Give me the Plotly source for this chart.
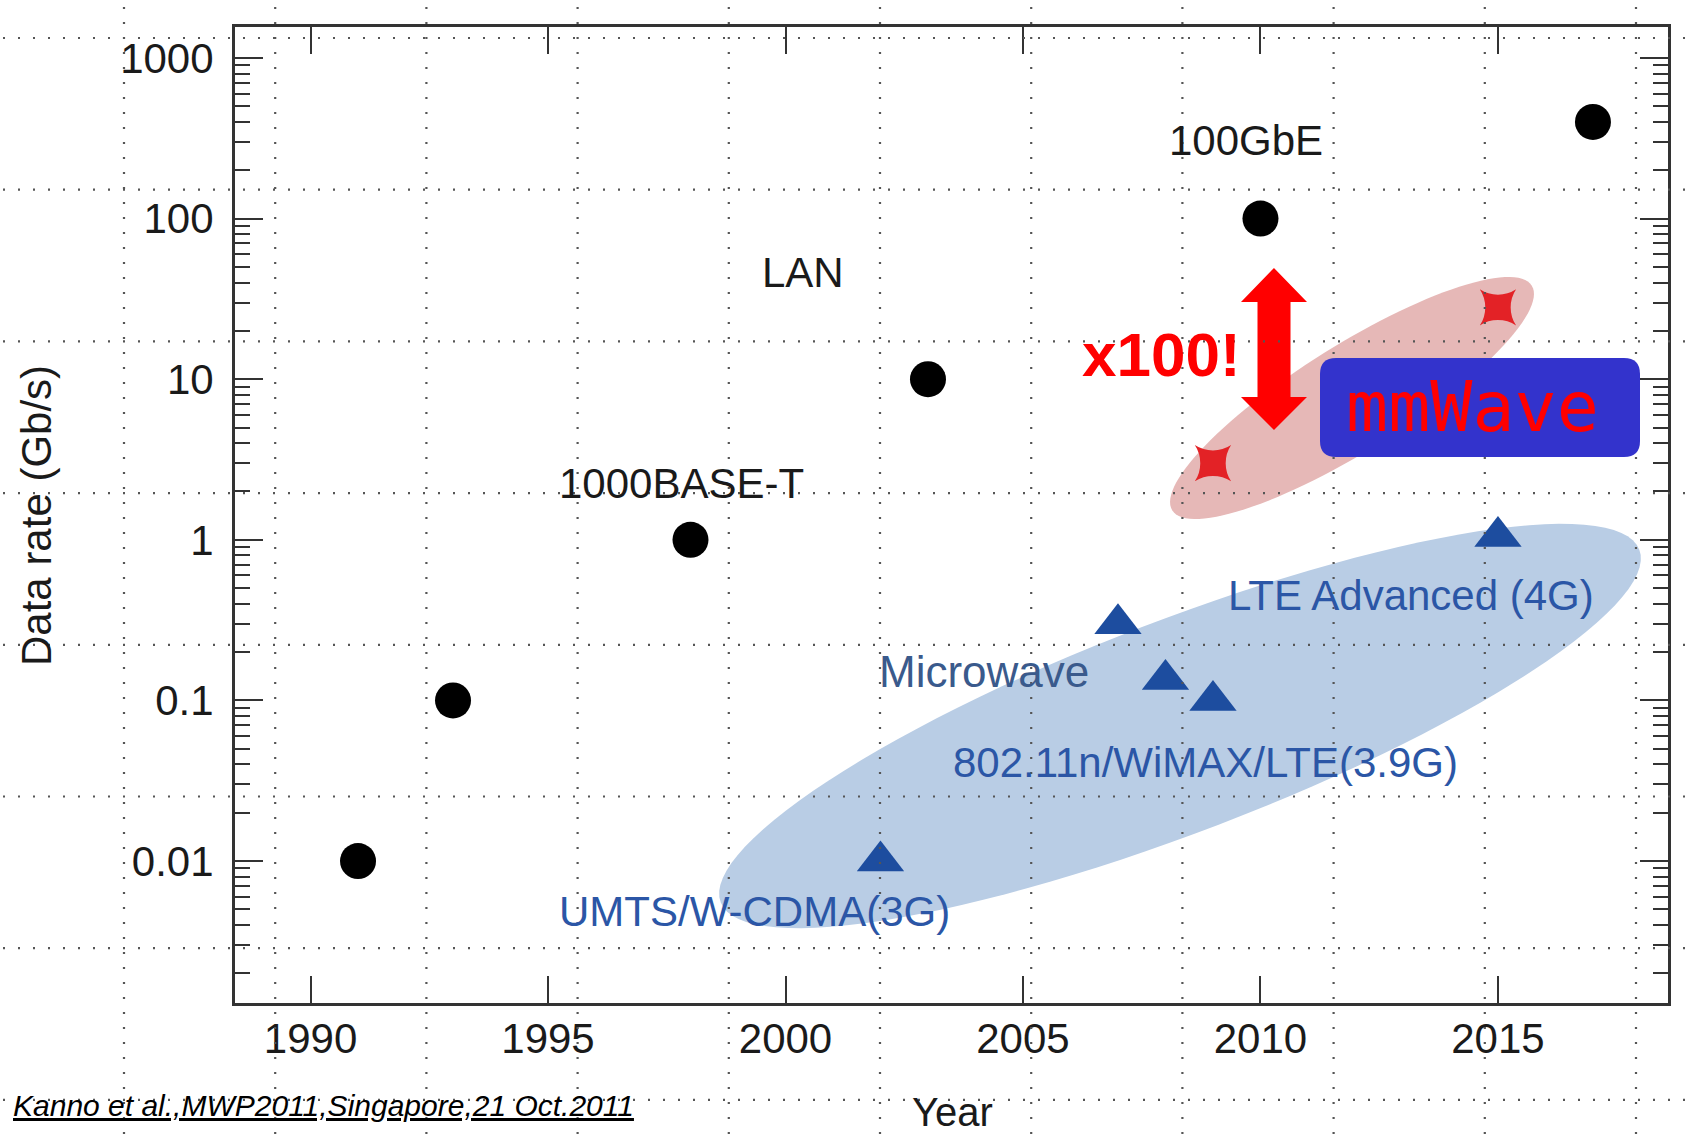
import math
import plotly.graph_objects as go

# ---------------- data ----------------
lan_years = [1991, 1993, 1998, 2003, 2010, 2017]
lan_rates = [0.01, 0.1, 1, 10, 100, 400]

mw_years = [2002, 2007, 2008, 2009, 2015]
mw_rates = [0.01, 0.3, 0.135, 0.1, 1.05]

mmw_years = [2009, 2015]
mmw_rates = [3.0, 28]

x_ticks = [1990, 1995, 2000, 2005, 2010, 2015]
y_ticks = [0.01, 0.1, 1, 10, 100, 1000]
y_ticktext = ["0.01", "0.1", "1", "10", "100", "1000"]

# ---------------- layout geometry ----------------
W_FIG, H_FIG = 1694, 1135
L, R, T, B = 235, 1668, 27, 1003
PW, PH = R - L, B - T


def px(x):
    return (x - L) / PW


def py(y):
    return (B - y) / PH


FONT = "Liberation Sans, Arial, sans-serif"
AX = "#333333"

fig = go.Figure()

fig.add_trace(go.Scatter(x=lan_years, y=lan_rates, mode="markers", name="LAN",
                         marker=dict(symbol="circle", size=36, color="#000000",
                                     line=dict(width=0)),
                         showlegend=False))
fig.add_trace(go.Scatter(x=mw_years, y=mw_rates, mode="markers", name="Microwave",
                         marker=dict(symbol="triangle-up", size=41, color="#1d4d9f",
                                     line=dict(width=0)),
                         showlegend=False))
fig.add_trace(go.Scatter(x=mmw_years, y=mmw_rates, mode="markers", name="mmWave",
                         marker=dict(symbol="star-square", size=33, color="#e32226",
                                     line=dict(width=0)),
                         showlegend=False))

shapes = []


def ellipse_path(cx, cy, a, b, ang_deg, n=120):
    th = math.radians(ang_deg)
    ux, uy = math.cos(th), -math.sin(th)
    vx, vy = math.sin(th), math.cos(th)
    pts = []
    for i in range(n):
        t = 2 * math.pi * i / n
        x = cx + a * math.cos(t) * ux + b * math.sin(t) * vx
        y = cy + a * math.cos(t) * uy + b * math.sin(t) * vy
        pts.append(f"{px(x):.5f},{py(y):.5f}")
    return "M" + " L".join(pts) + " Z"


# blue ellipse (wireless)
shapes.append(dict(type="path", xref="paper", yref="paper", layer="below",
                   path=ellipse_path(1180, 726, 492, 106, 21),
                   fillcolor="#b9cde5", line=dict(width=0)))
# red ellipse (mmWave)
shapes.append(dict(type="path", xref="paper", yref="paper", layer="below",
                   path=ellipse_path(1352, 398, 212, 53, 32),
                   fillcolor="#e6b8b7", line=dict(width=0)))

# double arrow
acx = 1274
arrow_pts = [(acx, 268), (acx + 33, 302), (acx + 16.5, 302), (acx + 16.5, 397),
             (acx + 33, 397), (acx, 430), (acx - 33, 397), (acx - 16.5, 397),
             (acx - 16.5, 302), (acx - 33, 302)]
shapes.append(dict(type="path", xref="paper", yref="paper", layer="above",
                   path="M" + " L".join(f"{px(x):.5f},{py(y):.5f}" for x, y in arrow_pts) + " Z",
                   fillcolor="#ff0000", line=dict(width=0)))

# dotted background grid (slide grid)
for k in range(8):
    y = 38 + 151.7 * k
    shapes.append(dict(type="line", xref="paper", yref="paper", layer="above",
                       x0=px(3), x1=px(W_FIG), y0=py(y), y1=py(y),
                       line=dict(color="#555555", width=2.2, dash="2px,13px")))
for k in range(11):
    x = 124 + 151.2 * k
    shapes.append(dict(type="line", xref="paper", yref="paper", layer="above",
                       x0=px(x), x1=px(x), y0=py(7), y1=py(H_FIG),
                       line=dict(color="#555555", width=2.2, dash="2px,13px")))

# mmWave rounded box
bx0, bx1, by0, by1, rr = 1320, 1640, 358, 457, 16
box_path = (f"M{px(bx0 + rr)},{py(by0)} L{px(bx1 - rr)},{py(by0)} "
            f"Q{px(bx1)},{py(by0)} {px(bx1)},{py(by0 + rr)} "
            f"L{px(bx1)},{py(by1 - rr)} Q{px(bx1)},{py(by1)} {px(bx1 - rr)},{py(by1)} "
            f"L{px(bx0 + rr)},{py(by1)} Q{px(bx0)},{py(by1)} {px(bx0)},{py(by1 - rr)} "
            f"L{px(bx0)},{py(by0 + rr)} Q{px(bx0)},{py(by0)} {px(bx0 + rr)},{py(by0)} Z")
shapes.append(dict(type="path", xref="paper", yref="paper", layer="above",
                   path=box_path, fillcolor="#3333cc", line=dict(width=0)))

annotations = []


def label(text, x, y, size=42, color="#1a1a1a", family=FONT, **kw):
    annotations.append(dict(text=text, x=px(x), y=py(y), xref="paper", yref="paper",
                            showarrow=False, xanchor="center", yanchor="middle",
                            font=dict(size=size, color=color, family=family), **kw))


label("LAN", 803, 272)
label("1000BASE-T", 681, 484)
label("100GbE", 1246, 140)
label("<b>x100!</b>", 1161, 354, size=62, color="#ff0000")
label("mmWave", 1472, 407, size=70, color="#ff0000",
      family="DejaVu Sans Mono, monospace")
label("LTE Advanced (4G)", 1411, 595, color="#2b56a6")
label("Microwave", 984, 671, size=44, color="#3a5a8c")
label("802.11n/WiMAX/LTE(3.9G)", 1205, 762, color="#2b56a6")
label("UMTS/W-CDMA(3G)", 754, 912, color="#2b56a6")
label("Data rate (Gb/s)", 36, 515, textangle=-90)
label("Year", 952, 1112, size=40)
annotations.append(dict(text="<i><u>Kanno et al.,MWP2011,Singapore,21 Oct.2011</u></i>",
                        x=px(11), y=py(1105), xref="paper", yref="paper",
                        showarrow=False, xanchor="left", yanchor="middle",
                        font=dict(size=30, color="#000000", family=FONT)))

minor_vals = [m * 10 ** e for e in range(-3, 4) for m in range(2, 10)]

fig.update_layout(
    width=W_FIG, height=H_FIG,
    margin=dict(l=L, r=W_FIG - R, t=T, b=H_FIG - B, pad=0),
    paper_bgcolor="white", plot_bgcolor="white",
    font=dict(family=FONT, size=42, color="#1a1a1a"),
    showlegend=False,
    shapes=shapes,
    annotations=annotations,
    xaxis=dict(range=[1988.41, 2018.58], tickmode="array", tickvals=x_ticks,
               ticks="inside", ticklen=27, tickwidth=2.2, tickcolor=AX,
               showline=True, linewidth=3, linecolor=AX, mirror="ticks",
               showgrid=False, zeroline=False, ticklabelstandoff=-3,
               tickfont=dict(size=42, color="#1a1a1a", family=FONT)),
    yaxis=dict(type="log", range=[-2.884, 3.193], tickmode="array",
               tickvals=y_ticks, ticktext=y_ticktext,
               ticks="inside", ticklen=28, tickwidth=2.2, tickcolor=AX,
               showline=True, linewidth=3, linecolor=AX, mirror="ticks",
               showgrid=False, zeroline=False, ticklabelstandoff=10,
               minor=dict(tickmode="array", tickvals=minor_vals, ticks="inside",
                          ticklen=15, tickwidth=2.2, tickcolor=AX, showgrid=False),
               tickfont=dict(size=42, color="#1a1a1a", family=FONT)),
)

fig.write_html("out.html",
               config={"displayModeBar": False},
               post_script="document.body.style.margin='0px';"
                           "document.body.style.overflow='hidden';")
